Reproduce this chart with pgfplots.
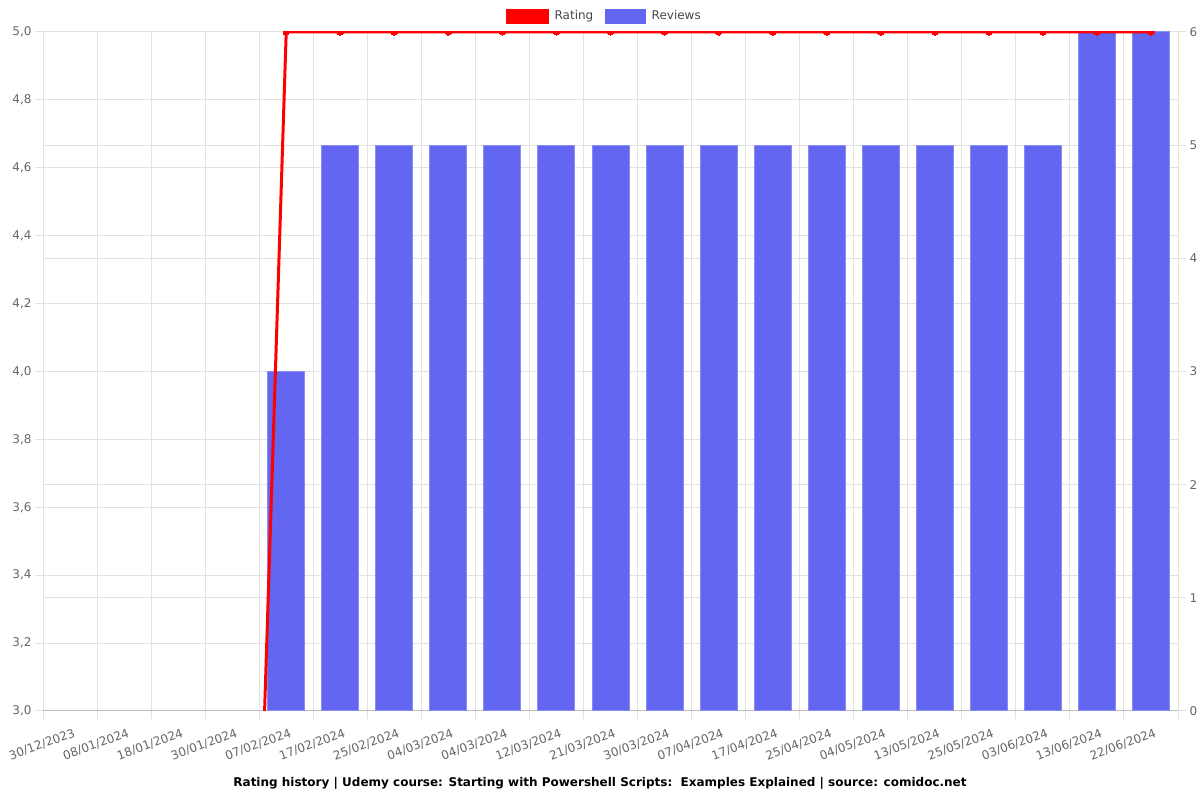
\documentclass[border=0pt]{standalone}
\usepackage{fontspec}
\setmainfont{DejaVu Sans}
\usepackage{pgfplots}
\pgfplotsset{compat=1.18}
\definecolor{barcol}{RGB}{99,102,241}
\definecolor{gridc}{RGB}{226,226,226}
\definecolor{axc}{RGB}{190,190,190}
\definecolor{labc}{RGB}{102,102,102}
\pgfplotsset{base/.style={scale only axis, width=1135bp, height=679bp,
  at={(43bp,89bp)}, anchor=south west, xmin=-0.5, xmax=20.5,
  tick align=outside, major tick length=8bp,
  ticklabel style={font=\fontsize{12bp}{14bp}\selectfont, color=labc},
  /pgf/number format/assume math mode=true,
  grid style={gridc, line width=1bp},
  tick style={gridc, line width=1bp},
  axis line style={-, axc, line width=1bp}}}
\begin{document}
\begin{tikzpicture}[x=1bp,y=1bp]
\path[use as bounding box] (0,0) rectangle (1200,800);
% grid and left axis
\begin{axis}[base, ymin=3, ymax=5,
  ytick={3,3.2,3.4,3.6,3.8,4,4.2,4.4,4.6,4.8,5},
  yticklabel style={/pgf/number format/.cd, fixed, fixed zerofill, precision=1, use comma},
  ymajorgrids, xmajorgrids,
  xtick={-0.5,0.5,...,20.5}, xticklabels={},
  axis x line*=bottom, axis y line*=left,
  y axis line style={gridc}]
\addplot[draw=none, forget plot] coordinates {(0,4)};
\end{axis}
% reviews (right axis)
\begin{axis}[base, ymin=0, ymax=6, ytick={0,1,2,3,4,5,6},
  ymajorgrids, axis y line*=right, axis x line*=bottom,
  y axis line style={gridc},
  xtick={0,...,20}, xtick style={draw=none},
  xticklabels={30/12/2023,08/01/2024,18/01/2024,30/01/2024,07/02/2024,17/02/2024,25/02/2024,04/03/2024,04/03/2024,12/03/2024,21/03/2024,30/03/2024,07/04/2024,17/04/2024,25/04/2024,04/05/2024,13/05/2024,25/05/2024,03/06/2024,13/06/2024,22/06/2024},
  xticklabel style={rotate=20, anchor=north east, xshift=3bp, yshift=-6bp}]
\addplot[ybar, bar width=37bp, bar shift=0pt, fill=barcol, draw=barcol!75!white, line width=1bp]
  coordinates {(4,3)(5,5)(6,5)(7,5)(8,5)(9,5)(10,5)(11,5)(12,5)(13,5)(14,5)(15,5)(16,5)(17,5)(18,5)(19,6)(20,6)};
\end{axis}
% rating line
\begin{axis}[base, ymin=3, ymax=5, hide axis, clip=true, clip marker paths=true,
  legend style={at={(0.5,1)}, anchor=center, xshift=-6bp, yshift=16bp, draw=none, fill=none,
    legend columns=2, font=\fontsize{12bp}{14bp}\selectfont, text=labc!70!black,
    /tikz/every even column/.append style={column sep=10bp}}]
\addplot[red, line width=3bp, mark=*, mark size=3.2bp, mark options={fill=red, line width=0pt}, forget plot]
  coordinates {(0,0)(1,0)(2,0)(3,0)(4,5)(5,5)(6,5)(7,5)(8,5)(9,5)(10,5)(11,5)(12,5)(13,5)(14,5)(15,5)(16,5)(17,5)(18,5)(19,5)(20,5)};
\addlegendimage{legend image code/.code={\fill[red] (0bp,-7bp) rectangle (42bp,7bp); \path (46bp,0bp);}}
\addlegendentry{Rating}
\addlegendimage{legend image code/.code={\fill[barcol] (0bp,-7bp) rectangle (40bp,7bp); \path (44bp,0bp);}}
\addlegendentry{Reviews}
\end{axis}
\node[font=\bfseries\fontsize{12bp}{14bp}\selectfont] at (600,17) {Rating history | Udemy course: Starting with Powershell Scripts:\ \ Examples Explained | source: comidoc.net};
\end{tikzpicture}
\end{document}
